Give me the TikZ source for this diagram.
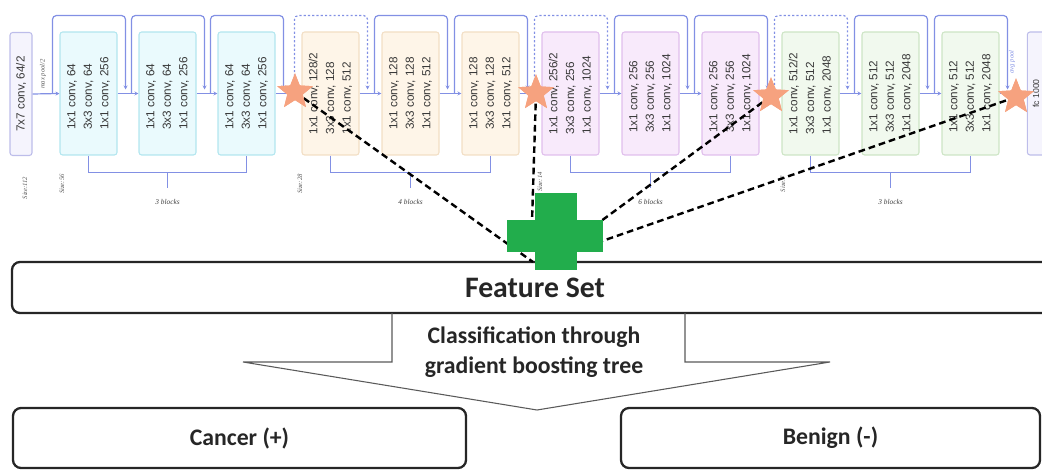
\documentclass[tikz,border=0pt]{standalone}
\usepackage{fontspec}
\setmainfont{Carlito}
\newfontfamily\arf{Liberation Sans}
\newfontfamily\serf{Liberation Serif}
\usetikzlibrary{shapes.geometric,calc,arrows.meta}
\definecolor{skipc}{HTML}{8290E4}
\definecolor{cyanF}{HTML}{EAFAFD}\definecolor{cyanD}{HTML}{B2E6EF}
\definecolor{orF}{HTML}{FEF5E8}\definecolor{orD}{HTML}{F2DEC4}
\definecolor{puF}{HTML}{F8EAFB}\definecolor{puD}{HTML}{E0BEEC}
\definecolor{grF}{HTML}{F1F9EE}\definecolor{grD}{HTML}{CDE5C5}
\definecolor{stF}{HTML}{F5F4FD}\definecolor{stD}{HTML}{BDBDEA}
\definecolor{starc}{HTML}{F6A27F}
\definecolor{plusc}{HTML}{22AD4C}
\newcommand\myskip[2][]{\draw[skipln,rounded corners=3pt,#1] ($(#2.north)+(-7,0)$) -- ++(0,-78) -| ($(#2.south)+(8,-4)$);}
\newcommand\mybrack[4]{%
  \draw[skipln] (#1.west) -- ++(0,17) -| (#2.west);
  \draw[skipln] ($(#1.west)!.5!(#2.west)+(0,17)$) -- ++(0,15);
  \node[blab] (#3) at ($(#1.west)!.5!(#2.west)+(0,46)$) {#4};}
\begin{document}
\begin{tikzpicture}[x=0.75pt,y=-0.75pt,
  blk/.style={draw, rotate=90, minimum width=92.25pt, minimum height=42.75pt,
    rounded corners=2pt, align=left, inner sep=0pt, line width=0.8pt,
    font=\arf\fontsize{8.8}{12.4}\selectfont, text=black!78},
  s1blk/.style={blk, fill=cyanF, draw=cyanD},
  s2blk/.style={blk, fill=orF, draw=orD},
  s3blk/.style={blk, fill=puF, draw=puD},
  s4blk/.style={blk, fill=grF, draw=grD},
  skipln/.style={draw=skipc, line width=0.9pt},
  arrow/.style={-{Stealth[length=3pt,width=3pt]}},
  dotln/.style={dash pattern=on 1.6pt off 1.6pt},
  blab/.style={font=\serf\itshape\fontsize{5.5}{6}\selectfont, text=black!75, inner sep=0pt},
  slab/.style={rotate=90, font=\serf\itshape\fontsize{5}{6}\selectfont, text=black!65, inner sep=0pt},
  starn/.style={star, star points=5, star point ratio=2.3, minimum size=28pt, fill=starc, draw=none, inner sep=0pt},
  dln/.style={draw=black, line width=1.8pt, dash pattern=on 5pt off 3pt},
  bigbox/.style={draw=black!85, line width=1.7pt, rounded corners=6pt, fill=white},
  cls/.style={font=\bfseries\fontsize{17.8}{22}\selectfont, text=black!85, align=center}
]
\useasboundingbox (0,0) rectangle (1042,470);

% stem
\node[blk, fill=stF, draw=stD, minimum height=16.5pt] (stem) at (21,94) {7x7 conv, 64/2};
\node[slab] (mp) at (43,74) {max pool/2};
\node[slab] (sz1) at (25,188) {Size:112};

% stage 1
\node[s1blk] (b1) at (88.5,93.5) {1x1 conv, 64\\3x3 conv, 64\\1x1 conv, 256};
\node[s1blk] (b2) at (167.5,93.5) {1x1 conv, 64\\3x3 conv, 64\\1x1 conv, 256};
\node[s1blk] (b3) at (246.5,93.5) {1x1 conv, 64\\3x3 conv, 64\\1x1 conv, 256};
% stage 2
\node[s2blk] (b4) at (330.5,93.5) {1x1 conv, 128/2\\3x3 conv, 128\\1x1 conv, 512};
\node[s2blk] (b5) at (410.5,93.5) {1x1 conv, 128\\3x3 conv, 128\\1x1 conv, 512};
\node[s2blk] (b6) at (490.5,93.5) {1x1 conv, 128\\3x3 conv, 128\\1x1 conv, 512};
% stage 3
\node[s3blk] (b7) at (570.5,93.5) {1x1 conv, 256/2\\3x3 conv, 256\\1x1 conv, 1024};
\node[s3blk] (b8) at (650.5,93.5) {1x1 conv, 256\\3x3 conv, 256\\1x1 conv, 1024};
\node[s3blk] (b9) at (730.5,93.5) {1x1 conv, 256\\3x3 conv, 256\\1x1 conv, 1024};
% stage 4
\node[s4blk] (b10) at (810.5,93.5) {1x1 conv, 512/2\\3x3 conv, 512\\1x1 conv, 2048};
\node[s4blk] (b11) at (890.5,93.5) {1x1 conv, 512\\3x3 conv, 512\\1x1 conv, 2048};
\node[s4blk] (b12) at (970.5,93.5) {1x1 conv, 512\\3x3 conv, 512\\1x1 conv, 2048};
% final
\node[blk, fill=stF, draw=stD, minimum height=25pt] (fc) at (1044,93.5) {};
\node[slab, font=\arf\fontsize{6.5}{7}\selectfont, text=black!78] (fct) at (1036,93.5) {fc 1000};
\node[slab, text=skipc] (ap) at (1012,62) {avg pool};

% size labels
\node[slab] (sz2) at (62,184) {Size:56};
\node[slab] (sz3) at (300,184) {Size:28};
\node[slab] (sz4) at (540,182) {Size:14};
\node[slab] (sz5) at (783,184) {Size:7};

% forward arrows
\draw[skipln,arrow] (stem.south) -- (b1.north);
\foreach \a/\b in {b1/b2,b2/b3,b3/b4,b4/b5,b5/b6,b6/b7,b7/b8,b8/b9,b9/b10,b10/b11,b11/b12,b12/fc}
  \draw[skipln,arrow] (\a.south) -- (\b.north);

% skip connections
\myskip[arrow]{b1}\myskip[arrow]{b2}\myskip[arrow]{b3}
\myskip[arrow,dotln]{b4}\myskip[arrow]{b5}\myskip[arrow]{b6}
\myskip[arrow,dotln]{b7}\myskip[arrow]{b8}\myskip[arrow]{b9}
\myskip[arrow,dotln]{b10}\myskip[arrow]{b11}\myskip[arrow]{b12}

% brackets
\mybrack{b1}{b3}{n1}{3 blocks}
\mybrack{b4}{b6}{n2}{4 blocks}
\mybrack{b7}{b9}{n3}{6 blocks}
\mybrack{b10}{b12}{n4}{3 blocks}

% feature set box
\node[bigbox, minimum width=784.5pt, minimum height=38.25pt, font=\bfseries\fontsize{22.3}{24}\selectfont, text=black!85] (fs) at (535,287.5) {Feature Set};

% dashed lines and plus ends
\coordinate (p1) at (533,262);
\coordinate (p2) at (532,222);
\coordinate (p3) at (597,224);
\coordinate (p4) at (585,247);
\node[starn] (s1) at (295,92) {};
\node[starn] (s2) at (536,93) {};
\node[starn] (s3) at (771,96) {};
\node[starn] (s4) at (1016,97) {};
\draw[dln] (s1.center) -- (p1);
\draw[dln] (s2.center) -- (p2);
\draw[dln] (s3.center) -- (p3);
\draw[dln] (s4.center) -- (p4);
\node[starn] (s1t) at (s1) {};
\node[starn] (s2t) at (s2) {};
\node[starn] (s3t) at (s3) {};
\node[starn] (s4t) at (s4) {};

% green plus
\fill[plusc] (535,193) rectangle (577,270);
\fill[plusc] (507,220) rectangle (603,252);

% classification arrow outline
\draw[black!65, line width=0.8pt] (392,313) -- (392,362) -- (243,362) -- (537,410) -- (830,362) -- (685,362) -- (685,313);
\node[cls] (ct) at (534,352) {Classification through\\gradient boosting tree};

% result boxes
\node[bigbox, minimum width=339.75pt, minimum height=45pt, font=\bfseries\fontsize{17.8}{20}\selectfont, text=black!85] (can) at (239.5,438) {Cancer (+)};
\node[bigbox, minimum width=314.25pt, minimum height=45pt, font=\bfseries\fontsize{17.8}{20}\selectfont, text=black!85] (ben) at (830.5,438) {Benign (-)};
\end{tikzpicture}
\end{document}
